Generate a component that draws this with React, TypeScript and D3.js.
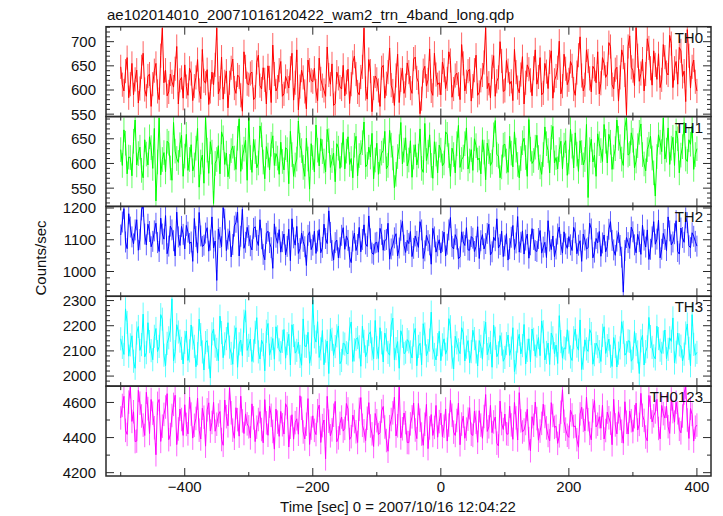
import React from 'react';
import * as d3 from 'd3';

const TITLE = 'ae102014010_20071016120422_wam2_trn_4band_long.qdp';
const X_LABEL = 'Time [sec] 0 = 2007/10/16 12:04:22';
const Y_LABEL = 'Counts/sec';

// time bins (sec), 2.5 s sampling from -500 to 400
const TIMES = d3.range(-500, 400.1, 2.5);
const X_TICKS = [-400, -200, 0, 200, 400];

// values at t = -500, -495, ..., 400
const th0 = [
  648, 598, 667, 612, 590, 641, 603, 676, 587, 633,
  612, 655, 580, 728, 641, 596, 617, 644, 571, 626,
  652, 589, 634, 608, 663, 582, 619, 642, 597, 611,
  728, 604, 581, 639, 615, 664, 593, 627, 556, 648,
  611, 637, 585, 672, 602, 621, 650, 574, 633, 606,
  659, 592, 618, 645, 579, 683, 607, 626, 561, 641,
  617, 598, 666, 609, 587, 631, 654, 572, 624, 602,
  588, 643, 612, 670, 596, 627, 728, 581, 639, 604,
  622, 566, 651, 613, 687, 598, 630, 574, 645, 609,
  637, 593, 668, 616, 582, 649, 621, 598, 676, 611,
  590, 641, 623, 661, 602, 635, 580, 655, 617, 643,
  608, 672, 595, 631, 729, 614, 648, 587, 626, 660,
  599, 640, 618, 684, 605, 632, 571, 652, 620, 645,
  612, 667, 594, 638, 658, 583, 629, 701, 608, 644,
  621, 650, 589, 672, 630, 611, 660, 596, 643, 679,
  614, 655, 633, 690, 602, 647, 626, 668, 549, 712,
  640, 729, 618, 664, 633, 687, 610, 652, 675, 621,
  668, 631, 696, 645, 612, 681, 639, 725, 604, 662,
  598,
];
// values at t = -497.5, -492.5, ..., 397.5
const th0b = [
  611, 639, 584, 655, 622, 573, 648, 601, 629, 566,
  640, 597, 671, 615, 588, 633, 606, 690, 620, 583,
  607, 645, 578, 626, 599, 684, 614, 570, 637, 652,
  592, 668, 617, 563, 646, 604, 631, 589, 679, 613,
  634, 580, 657, 609, 646, 571, 625, 693, 598, 641,
  587, 628, 604, 676, 615, 559, 641, 597, 662, 620,
  645, 578, 623, 599, 689, 612, 568, 637, 606, 651,
  616, 572, 657, 633, 590, 648, 603, 663, 555, 629,
  599, 646, 583, 637, 610, 568, 674, 621, 593, 656,
  604, 664, 625, 551, 640, 608, 685, 589, 632, 615,
  658, 603, 679, 585, 630, 612, 694, 598, 639, 577,
  641, 589, 620, 657, 603, 584, 671, 618, 700, 597,
  661, 612, 578, 637, 594, 669, 615, 643, 588, 683,
  627, 590, 655, 603, 681, 620, 646, 592, 674, 611,
  659, 602, 636, 710, 598, 683, 624, 649, 615, 592,
  667, 626, 698, 611, 642, 577, 683, 631, 690, 647,
  609, 671, 634, 598, 706, 645, 681, 622, 605, 694,
  636, 713, 605, 659, 688, 628, 576, 671, 648, 617,
];

const th1 = [
  628, 668, 579, 612, 645, 597, 633, 571, 619, 654,
  590, 524, 692, 608, 583, 641, 566, 625, 602, 657,
  615, 586, 638, 597, 671, 603, 560, 627, 644, 519,
  608, 579, 652, 621, 594, 635, 588, 690, 613, 647,
  693, 582, 624, 601, 658, 569, 617, 639, 596, 611,
  643, 587, 628, 665, 574, 609, 637, 592, 651, 548,
  612, 678, 595, 624, 583, 646, 606, 563, 631, 617,
  589, 654, 610, 637, 575, 622, 684, 598, 613, 569,
  641, 604, 626, 589, 667, 611, 578, 634, 599, 652,
  607, 572, 638, 615, 590, 681, 623, 596, 644, 581,
  627, 601, 659, 574, 618, 640, 592, 613, 672, 605,
  586, 636, 611, 648, 567, 624, 603, 687, 615, 593,
  639, 582, 621, 664, 598, 610, 651, 574, 629, 606,
  657, 593, 618, 640, 581, 675, 612, 628, 589, 646,
  603, 635, 662, 584, 622, 608, 531, 649, 617, 660,
  626, 679, 601, 643, 613, 688, 634, 596, 692, 620,
  647, 605, 663, 618, 585, 639, 611, 534, 658, 624,
  609, 672, 631, 596, 650, 617, 683, 604, 639, 588,
  630,
];
const th1b = [
  596, 641, 613, 575, 688, 620, 586, 648, 597, 632,
  671, 603, 577, 622, 645, 591, 683, 610, 638, 574,
  659, 608, 585, 631, 552, 617, 694, 580, 623, 600,
  636, 664, 598, 573, 626, 611, 651, 584, 629, 566,
  612, 649, 591, 676, 603, 634, 587, 656, 620, 578,
  604, 632, 559, 618, 597, 686, 626, 574, 609, 640,
  583, 627, 650, 605, 669, 592, 621, 640, 590, 663,
  625, 598, 571, 655, 616, 642, 593, 633, 661, 607,
  578, 621, 665, 596, 637, 551, 614, 683, 627, 595,
  646, 613, 597, 670, 582, 606, 658, 570, 619, 637,
  595, 664, 616, 631, 581, 677, 608, 640, 589, 628,
  650, 607, 579, 623, 641, 596, 658, 618, 571, 637,
  605, 655, 593, 627, 571, 642, 612, 689, 600, 633,
  612, 578, 674, 626, 653, 601, 589, 645, 637, 576,
  669, 591, 619, 646, 597, 679, 628, 603, 574, 640,
  604, 645, 659, 588, 630, 651, 609, 673, 617, 662,
  591, 636, 680, 599, 628, 655, 581, 614, 643, 692,
  627, 598, 653, 666, 581, 634, 609, 648, 676, 618,
];

const th2 = [
  1115, 1198, 1072, 1140, 1087, 1163, 1101, 1205, 1084, 1126,
  1095, 1152, 1063, 1118, 1176, 1080, 1131, 1049, 1109, 1142,
  1071, 1124, 1093, 1167, 1058, 1112, 1083, 1138, 1099, 1074,
  972, 1107, 1201, 1066, 1128, 1085, 1155, 1049, 1196, 1092,
  1113, 1068, 1141, 1082, 1103, 1037, 1127, 1075, 1150, 1089,
  1061, 1118, 1079, 1034, 1106, 1142, 1072, 1095, 1019, 1125,
  1083, 1057, 1132, 1076, 1104, 1191, 1066, 1091, 1043, 1114,
  1070, 1098, 1028, 1121, 1085, 1062, 1147, 1079, 1103, 1054,
  1092, 1136, 1067, 1101, 1039, 1083, 1119, 1074, 1158, 1060,
  1088, 1047, 1112, 1076, 1131, 1065, 1097, 1023, 1109, 1081,
  1058, 1124, 1086, 1170, 1071, 1102, 1046, 1093, 1138, 1067,
  1105, 1079, 1041, 1116, 1088, 1149, 1062, 1097, 1074, 1127,
  1081, 1036, 1108, 1069, 1173, 1092, 1055, 1118, 1084, 1101,
  1063, 1129, 1077, 1044, 1096, 1112, 1071, 1140, 1058, 1087,
  1110, 1066, 1122, 1083, 1032, 1099, 1075, 1134, 1061, 1090,
  1048, 1115, 1079, 1157, 1068, 1096, 1082, 935, 1107, 1073,
  1125, 1059, 1094, 1146, 1077, 1038, 1109, 1086, 1162, 1070,
  1101, 1172, 1084, 1119, 1063, 1137, 1092, 1154, 1075, 1111,
  1080,
];
const th2b = [
  1156, 1093, 1182, 1109, 1131, 1067, 1194, 1118, 1149, 1078,
  1128, 1091, 1168, 1102, 1056, 1143, 1097, 1187, 1082, 1117,
  1145, 1088, 1032, 1110, 1186, 1079, 1121, 1064, 1172, 1096,
  1134, 1078, 1165, 1102, 1046, 1143, 1187, 1111, 1073, 1139,
  1081, 1136, 1098, 1163, 1054, 1120, 1091, 1010, 1108, 1132,
  1094, 1052, 1133, 1166, 1083, 1057, 1121, 1078, 1114, 1069,
  1127, 1096, 1059, 1149, 1088, 1123, 1036, 1099, 1075, 1138,
  1112, 1045, 1096, 1066, 1139, 1101, 1087, 1175, 1058, 1090,
  1061, 1117, 1098, 1152, 1071, 1106, 1049, 1130, 1083, 1098,
  1126, 1073, 1095, 1157, 1041, 1114, 1084, 1136, 1061, 1100,
  1095, 1049, 1131, 1079, 1116, 1040, 1125, 1082, 1068, 1110,
  1063, 1141, 1097, 1071, 1120, 1052, 1108, 1166, 1085, 1047,
  1119, 1072, 1145, 1090, 1061, 1128, 1099, 1042, 1135, 1066,
  1104, 1058, 1092, 1160, 1069, 1047, 1118, 1085, 1125, 1073,
  1084, 1139, 1056, 1097, 1118, 1071, 1152, 1043, 1104, 1126,
  1090, 1062, 1133, 1098, 1051, 1123, 1045, 1066, 1091, 1140,
  1084, 1117, 1054, 1099, 1131, 1070, 1157, 1102, 1043, 1120,
  1066, 1128, 1093, 1160, 1055, 1107, 1169, 1081, 1122, 1095,
];

const th3 = [
  2148, 2086, 2213, 2124, 2059, 2171, 2102, 2246, 2093, 2137,
  2065, 2189, 2118, 2226, 2041, 2152, 2307, 2097, 2175, 2110,
  2134, 2062, 2203, 2118, 2089, 2165, 2024, 2141, 1992, 2187,
  2106, 2238, 2073, 2149, 2115, 2047, 2192, 2128, 2081, 2260,
  2122, 2058, 2174, 2096, 2143, 2021, 2209, 2110, 2067, 2156,
  2093, 2185, 2129, 2044, 2161, 2102, 2078, 2227, 2118, 2051,
  2302, 2135, 2074, 2181, 2099, 2010, 2146, 2117, 2199, 2062,
  2127, 2088, 2215, 2104, 2153, 2039, 2138, 2097, 2176, 2069,
  2113, 2192, 2056, 2144, 2083, 2230, 2109, 2031, 2158, 2095,
  2136, 2072, 2189, 2118, 2045, 2167, 2101, 2254, 2086, 2125,
  2061, 2148, 2107, 2196, 2028, 2132, 2089, 2171, 2115, 2053,
  2182, 2096, 2141, 2067, 2214, 2109, 2035, 2150, 2092, 2127,
  2074, 2163, 2111, 2018, 2139, 2088, 2205, 2102, 2057, 2146,
  2119, 2081, 2176, 2094, 2046, 2152, 2123, 2240, 2071, 2108,
  2135, 2062, 2187, 2103, 2026, 2144, 2098, 2169, 2085, 2117,
  2058, 2196, 2121, 2079, 2153, 2036, 2112, 2174, 2093, 2138,
  2071, 2125, 2010, 2162, 2097, 2233, 2114, 2068, 2149, 2090,
  2183, 2106, 2138, 2052, 2171, 2119, 2087, 2207, 2041, 2126,
  2094,
];
const th3b = [
  2114, 2267, 2079, 2160, 2031, 2197, 2125, 2076, 2212, 2101,
  2158, 2097, 2244, 2083, 2130, 2182, 2061, 2204, 2139, 2048,
  2179, 2100, 2151, 2037, 2226, 2096, 2133, 2075, 2168, 2119,
  2061, 2173, 2128, 2212, 2090, 2155, 2035, 2143, 2218, 2102,
  2147, 2100, 2232, 2068, 2125, 2178, 2083, 2149, 2196, 2104,
  2138, 2071, 2166, 2204, 2091, 2135, 2043, 2119, 2174, 2087,
  2156, 2216, 2108, 2045, 2139, 2185, 2082, 2160, 2049, 2131,
  2093, 2187, 2058, 2146, 2116, 2198, 2076, 2165, 2108, 2221,
  2070, 2132, 2171, 2094, 2203, 2065, 2137, 2180, 2089, 2145,
  2096, 2163, 2041, 2130, 2208, 2080, 2143, 2112, 2064, 2178,
  2124, 2087, 2228, 2075, 2158, 2104, 2192, 2060, 2141, 2097,
  2149, 2040, 2118, 2173, 2085, 2134, 2202, 2077, 2161, 2059,
  2129, 2082, 2192, 2053, 2166, 2121, 2048, 2148, 2187, 2079,
  2153, 2219, 2064, 2131, 2171, 2089, 2050, 2137, 2112, 2184,
  2076, 2152, 2119, 2223, 2071, 2108, 2185, 2047, 2131, 2097,
  2162, 2090, 2147, 2038, 2118, 2091, 2216, 2083, 2140, 2059,
  2177, 2096, 2140, 2044, 2116, 2157, 2080, 2198, 2103, 2135,
  2069, 2152, 2231, 2095, 2124, 2060, 2171, 2110, 2244, 2083,
];

const th0123 = [
  4512, 4635, 4418, 4690, 4547, 4380, 4596, 4471, 4658, 4423,
  4539, 4302, 4617, 4465, 4574, 4388, 4526, 4641, 4449, 4503,
  4587, 4421, 4534, 4470, 4625, 4392, 4516, 4558, 4437, 4601,
  4476, 4548, 4356, 4519, 4683, 4442, 4570, 4408, 4495, 4535,
  4461, 4592, 4377, 4503, 4446, 4616, 4413, 4527, 4334, 4488,
  4549, 4420, 4571, 4459, 4391, 4507, 4638, 4432, 4476, 4361,
  4524, 4417, 4585, 4468, 4279, 4493, 4444, 4606, 4398, 4517,
  4452, 4563, 4405, 4491, 4372, 4628, 4438, 4510, 4466, 4349,
  4496, 4427, 4577, 4383, 4462, 4541, 4409, 4688, 4450, 4485,
  4371, 4518, 4443, 4594, 4420, 4476, 4337, 4531, 4458, 4402,
  4539, 4465, 4380, 4612, 4431, 4497, 4359, 4522, 4448, 4570,
  4412, 4487, 4553, 4396, 4645, 4461, 4428, 4517, 4352, 4480,
  4534, 4419, 4472, 4600, 4386, 4495, 4443, 4561, 4325, 4470,
  4508, 4437, 4590, 4455, 4381, 4526, 4464, 4410, 4672, 4448,
  4401, 4529, 4466, 4345, 4573, 4439, 4502, 4387, 4611, 4476,
  4453, 4392, 4545, 4482, 4618, 4421, 4509, 4368, 4487, 4551,
  4434, 4596, 4475, 4527, 4403, 4640, 4489, 4546, 4452, 4583,
  4511, 4462, 4620, 4488, 4541, 4427, 4654, 4500, 4566, 4380,
  4471,
];
const th0123b = [
  4583, 4441, 4602, 4492, 4377, 4669, 4523, 4412, 4565, 4617,
  4456, 4595, 4378, 4532, 4650, 4417, 4589, 4360, 4562, 4412,
  4475, 4631, 4397, 4509, 4442, 4567, 4351, 4598, 4486, 4436,
  4528, 4389, 4614, 4467, 4541, 4396, 4502, 4636, 4423, 4478,
  4398, 4512, 4459, 4548, 4370, 4484, 4579, 4435, 4562, 4407,
  4473, 4593, 4346, 4530, 4485, 4419, 4567, 4392, 4622, 4454,
  4441, 4553, 4372, 4500, 4635, 4410, 4527, 4376, 4481, 4437,
  4594, 4389, 4528, 4433, 4561, 4470, 4383, 4599, 4421, 4537,
  4417, 4551, 4460, 4322, 4503, 4630, 4467, 4398, 4540, 4372,
  4478, 4597, 4394, 4499, 4356, 4589, 4455, 4412, 4583, 4491,
  4405, 4563, 4471, 4527, 4412, 4596, 4477, 4396, 4505, 4419,
  4551, 4373, 4471, 4520, 4435, 4583, 4489, 4368, 4608, 4446,
  4422, 4579, 4390, 4512, 4656, 4432, 4480, 4394, 4519, 4602,
  4385, 4481, 4520, 4412, 4599, 4458, 4367, 4544, 4493, 4413,
  4557, 4462, 4388, 4535, 4498, 4630, 4424, 4553, 4461, 4519,
  4584, 4440, 4513, 4359, 4472, 4547, 4436, 4604, 4420, 4496,
  4519, 4443, 4652, 4498, 4381, 4572, 4524, 4618, 4393, 4536,
  4579, 4424, 4548, 4601, 4447, 4523, 4687, 4395, 4532, 4459,
];

const PANEL_NAMES = ['TH0', 'TH1', 'TH2', 'TH3', 'TH0123'];
const PANEL_A = [th0, th1, th2, th3, th0123];
const PANEL_B = [th0b, th1b, th2b, th3b, th0123b];
// typical 1-sigma error bar half-length per band (counts/sec)
const PANEL_ERRORS = [25, 25, 33, 46, 67];
const PANEL_COLORS = ['#ff0000', '#00ff00', '#0000ff', '#00ffff', '#ff00ff'];
const PANEL_DOMAINS: [number, number][] = [
  [545, 731], [513, 695], [922, 1205], [1960, 2317], [4181, 4693],
];
const PANEL_TICKS = [
  [550, 600, 650, 700],
  [550, 600, 650],
  [1000, 1100, 1200],
  [2000, 2100, 2200, 2300],
  [4200, 4400, 4600],
];
const PANEL_MINOR = [10, 10, 20, 20, 100];

const W = 723, H = 516;
const LEFT = 106, RIGHT = 711, TOP = 26.7, BOTTOM = 476;
const FONT = '"Liberation Sans", Arial, Helvetica, sans-serif';
const AXIS = '#2a2a2a';

function interleave(a: number[], b: number[]): number[] {
  const out: number[] = [];
  a.forEach((v, k) => {
    out.push(v);
    if (k < b.length) out.push(b[k]);
  });
  return out;
}

export default function App() {
  const x = d3.scaleLinear().domain([-523, 422]).range([LEFT, RIGHT]);
  const ph = (BOTTOM - TOP) / PANEL_NAMES.length;
  const xMinor = d3.range(-500, 401, 100);

  return (
    <svg width={W} height={H} style={{ position: 'absolute', left: 0, top: 0, background: '#fff' }}
      fontFamily={FONT}>
      <text x={107} y={20} fontSize={15} fill="#111">{TITLE}</text>
      {PANEL_NAMES.map((name, i) => {
        const top = TOP + i * ph;
        const bot = top + ph;
        const dom = PANEL_DOMAINS[i];
        const y = d3.scaleLinear().domain(dom).range([bot, top]);
        const values = interleave(PANEL_A[i], PANEL_B[i]);
        const err = PANEL_ERRORS[i];
        const line = d3.line<number>()
          .x((_, k) => x(TIMES[k]))
          .y((v) => y(v));
        const errPath = values
          .map((v, k) => `M${x(TIMES[k]).toFixed(2)},${y(v + err).toFixed(2)}V${y(v - err).toFixed(2)}`)
          .join('');
        const majors = PANEL_TICKS[i];
        const minorStep = PANEL_MINOR[i];
        const minors = d3.range(Math.ceil(dom[0] / minorStep) * minorStep, dom[1], minorStep)
          .filter((v) => !majors.includes(v));
        const clipId = `clip-${i}`;
        return (
          <g key={name}>
            <clipPath id={clipId}>
              <rect x={LEFT} y={top} width={RIGHT - LEFT} height={ph} />
            </clipPath>
            <g clipPath={`url(#${clipId})`}>
              <path d={errPath} fill="none" stroke={PANEL_COLORS[i]} strokeOpacity={0.7}
                strokeWidth={0.9} />
              <path d={line(values) || ''} fill="none" stroke={PANEL_COLORS[i]}
                strokeWidth={1} />
            </g>
            <rect x={LEFT} y={top} width={RIGHT - LEFT} height={ph} fill="none"
              stroke={AXIS} strokeWidth={1.5} />
            {majors.map((v) => (
              <g key={'M' + v}>
                <line x1={LEFT} x2={LEFT + 8} y1={y(v)} y2={y(v)} stroke={AXIS} strokeWidth={1} />
                <line x1={RIGHT} x2={RIGHT - 8} y1={y(v)} y2={y(v)} stroke={AXIS} strokeWidth={1} />
                <text x={96} y={y(v)} dy="0.36em" textAnchor="end" fontSize={15} fill="#111">{v}</text>
              </g>
            ))}
            {minors.map((v) => (
              <g key={'m' + v}>
                <line x1={LEFT} x2={LEFT + 4} y1={y(v)} y2={y(v)} stroke={AXIS} strokeWidth={1} />
                <line x1={RIGHT} x2={RIGHT - 4} y1={y(v)} y2={y(v)} stroke={AXIS} strokeWidth={1} />
              </g>
            ))}
            {xMinor.map((t) => {
              const len = X_TICKS.includes(t) ? 8 : 4;
              return (
                <g key={'x' + t}>
                  <line x1={x(t)} x2={x(t)} y1={top} y2={top + len} stroke={AXIS} strokeWidth={1} />
                  <line x1={x(t)} x2={x(t)} y1={bot} y2={bot - len} stroke={AXIS} strokeWidth={1} />
                </g>
              );
            })}
            <text x={703} y={top + 16} textAnchor="end" fontSize={15} fill="#111">{name}</text>
          </g>
        );
      })}
      {X_TICKS.map((t) => (
        <text key={t} x={x(t)} y={492} textAnchor="middle" fontSize={15} fill="#111">
          {t < 0 ? '\u2212' + Math.abs(t) : String(t)}
        </text>
      ))}
      <text x={398} y={512} textAnchor="middle" fontSize={15} fill="#111">{X_LABEL}</text>
      <text transform="translate(46,258) rotate(-90)" textAnchor="middle" fontSize={15} fill="#111">{Y_LABEL}</text>
    </svg>
  );
}
